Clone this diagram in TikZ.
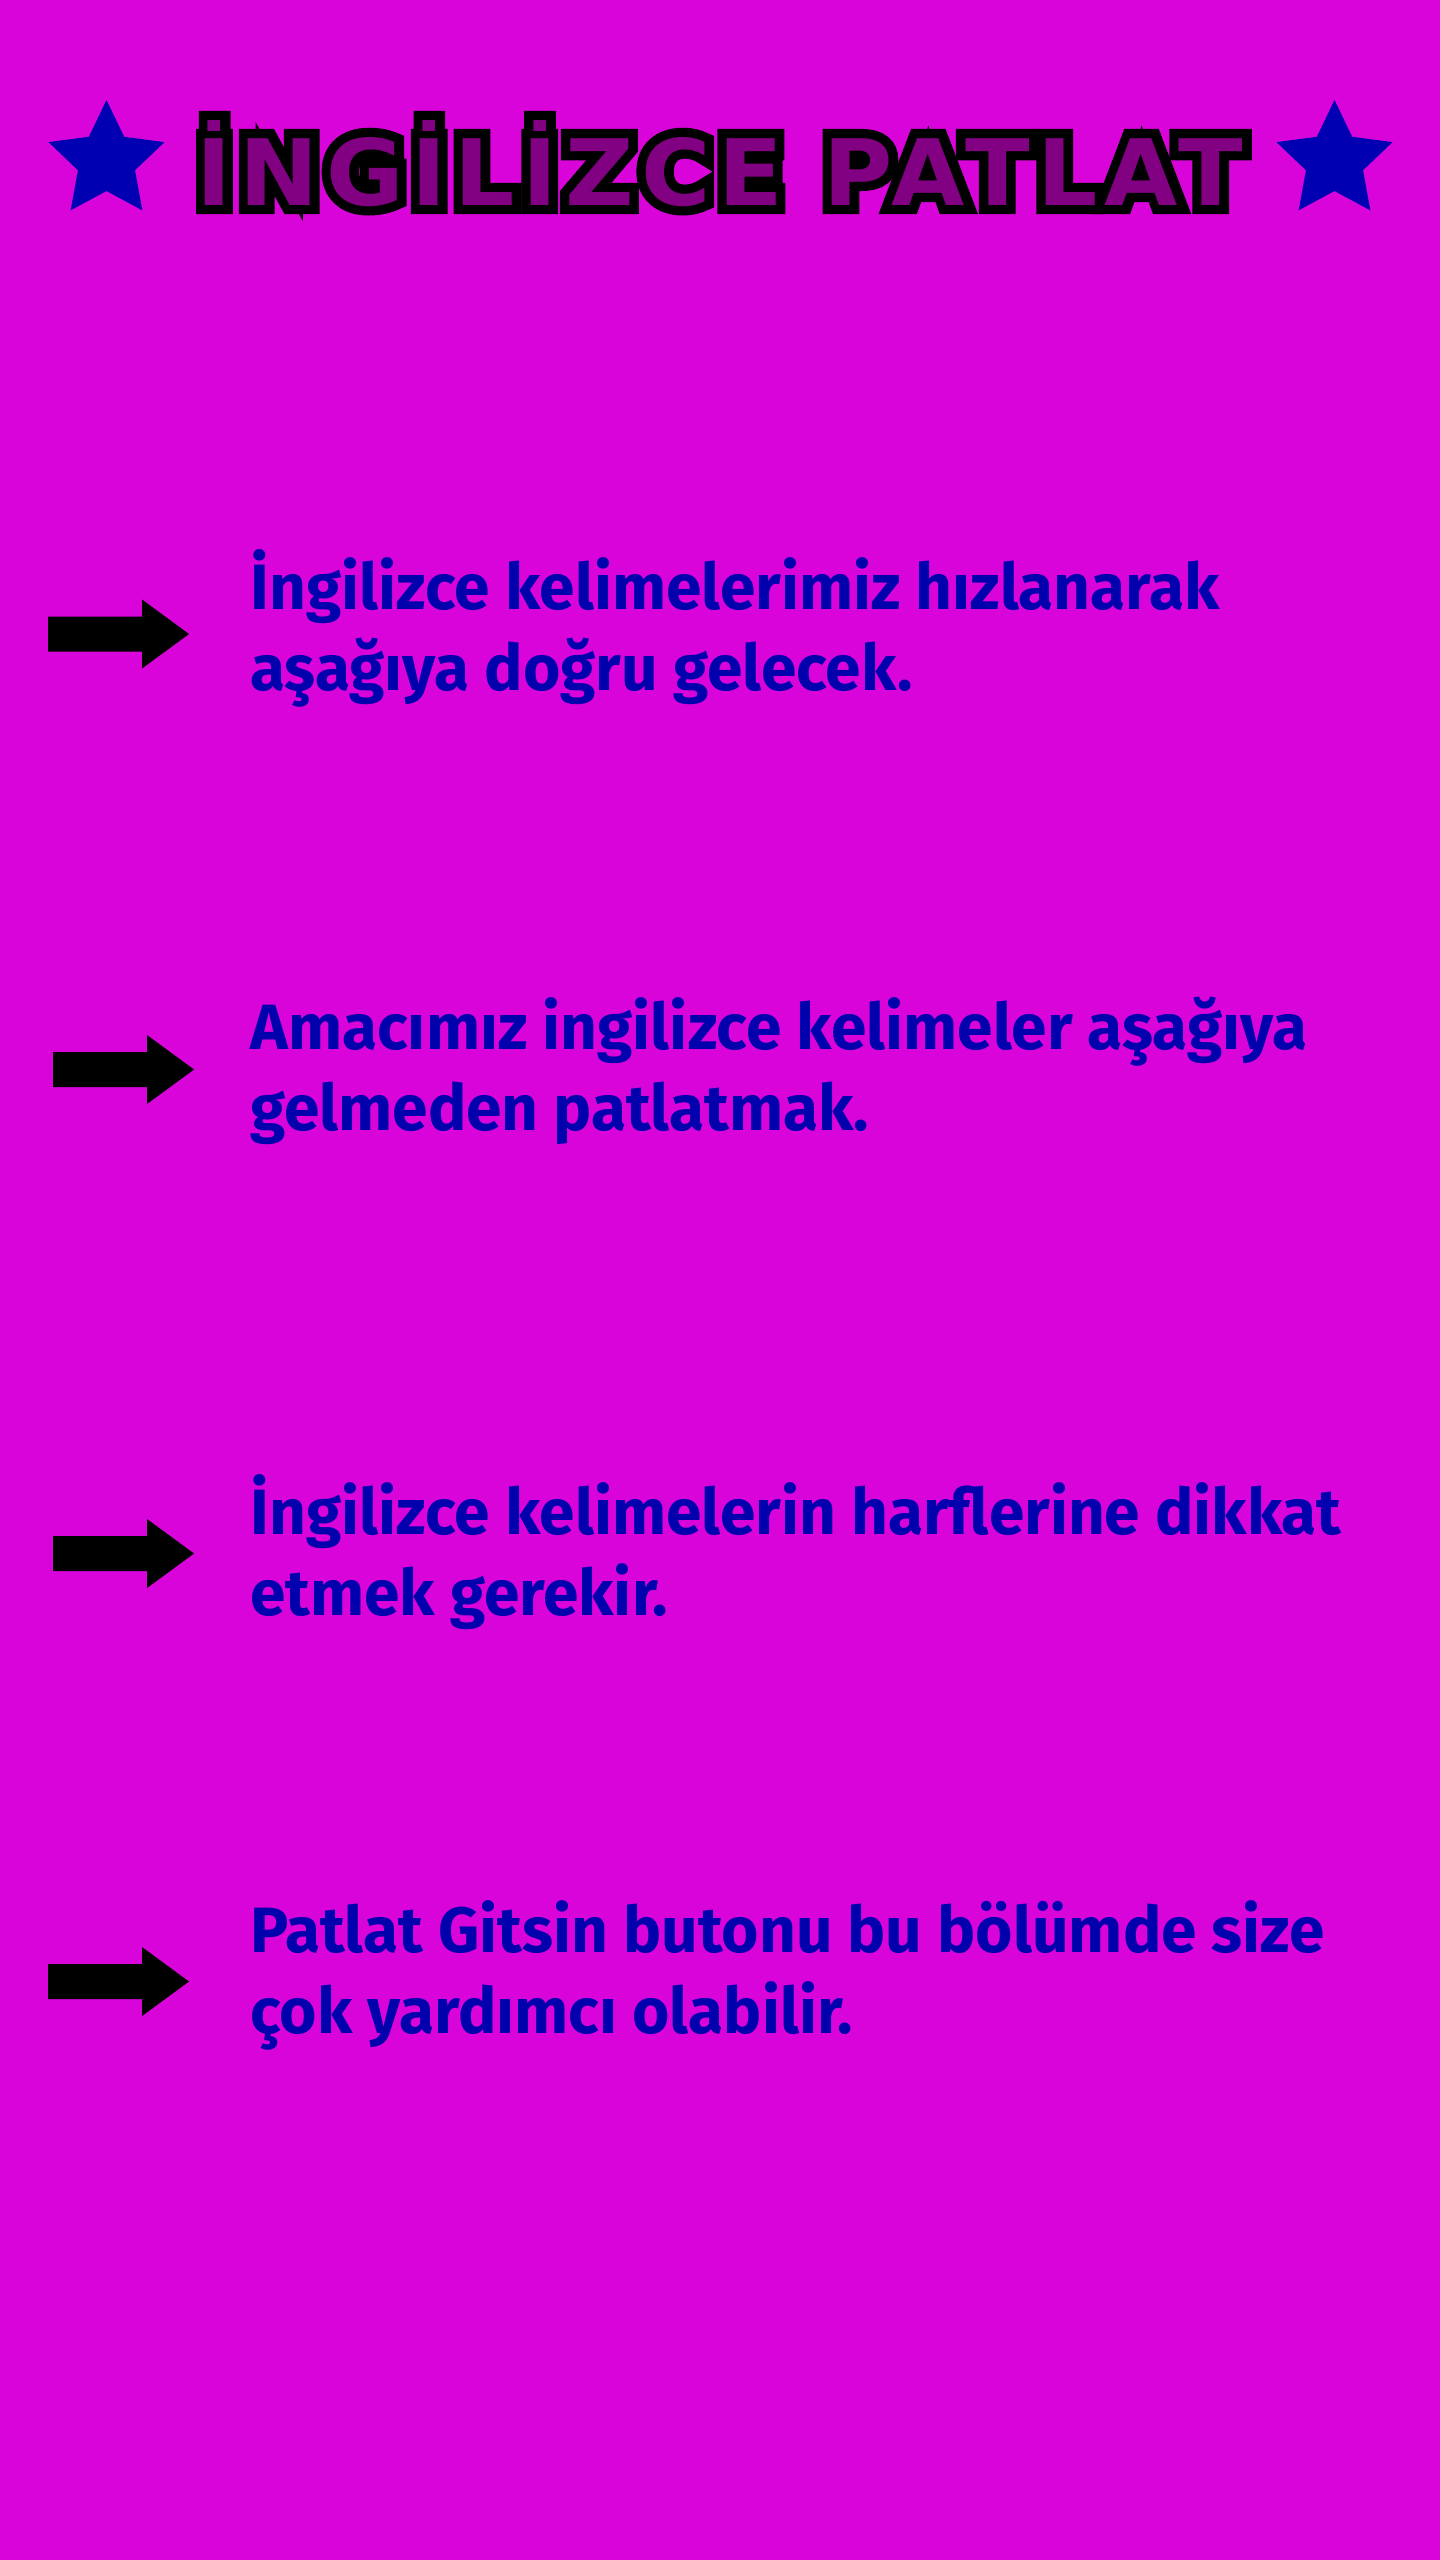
\documentclass[tikz,border=0pt]{standalone}
\usepackage{fontspec}
\setmainfont{Fira Sans}
\newfontfamily\hintfont{Fira Sans}
\newfontfamily\titlefont[LetterSpace=8]{DejaVu Sans}
\newfontfamily\titleedge[LetterSpace=8,FakeBold=20]{DejaVu Sans}
\definecolor{bgpink}{RGB}{217,4,217}
\definecolor{hintblue}{RGB}{2,0,172}
\definecolor{starblue}{RGB}{0,0,178}
\definecolor{titlefill}{RGB}{130,0,130}
\begin{document}
\begin{tikzpicture}[x=0.5pt,y=-0.5pt,
  hint/.style={anchor=base west,inner sep=0pt,align=left,text=hintblue,
    font=\hintfont\bfseries\fontsize{32}{40.5}\selectfont}]
%background
\fill[bgpink] (0,0) rectangle (1440,2560);

%stars
\foreach \cx in {106.5,1334.5}
  \fill[starblue] (\cx,161) +(-90:61)
    \foreach \k in {0,...,4} {-- +(-54+72*\k:30) -- +(-18+72*\k:61)} -- cycle;

%title
\node (title) at (720,205) [anchor=base,inner sep=0pt]
  {\resizebox{523pt}{42.5pt}{\rlap{\color{black}\titleedge\bfseries İNGİLİZCE PATLAT}%
   {\color{titlefill}\titlefont\bfseries İNGİLİZCE PATLAT}}};

%arrows
\foreach \ax/\ay in {48/634,53/1069.5,53/1553.5,48/1981.5}
  \fill (\ax,\ay-17.5) -- ++(94,0) -- ++(0,-17) -- ++(47,34.5)
    -- ++(-47,34.5) -- ++(0,-17) -- ++(-94,0) -- cycle;

%texts (base = last line)
\node (hint1) at (250,690) [hint] {İngilizce kelimelerimiz hızlanarak\\aşağıya doğru gelecek.};
\node (hint2) at (250,1130) [hint] {Amacımız ingilizce kelimeler aşağıya\\gelmeden patlatmak.};
\node (hint3) at (250,1615) [hint] {İngilizce kelimelerin harflerine dikkat\\etmek gerekir.};
\node (hint4) at (250,2033) [hint] {Patlat Gitsin butonu bu bölümde size\\çok yardımcı olabilir.};
\end{tikzpicture}
\end{document}
